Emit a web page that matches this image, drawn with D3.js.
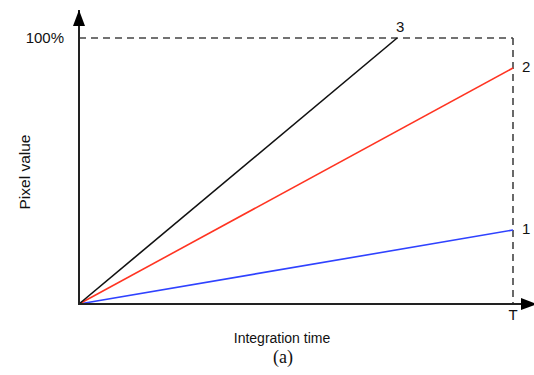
<!DOCTYPE html>
<html>
<head>
<meta charset="utf-8">
<script src="https://cdn.jsdelivr.net/npm/d3@7"></script>
<style>
  body { margin: 0; background: #fff; }
  text { font-family: "Liberation Sans", Arial, sans-serif; fill: #111; }
</style>
</head>
<body>
<svg id="chart" width="534" height="375"></svg>
<script>
// data: time in units of T, value in % of full scale
const seriesNames = ["1", "2", "3"];
const seriesColors = ["#2f42ff", "#ff3422", "#111111"];
const seriesTimes = [[0, 1], [0, 1], [0, 0.733]];
const seriesValues = [[0, 27.8], [0, 88.7], [0, 100]];
const xTickLabels = ["T"];
const yTickLabels = ["100%"];

const svg = d3.select("#chart");
const x = d3.scaleLinear().domain([0, 1]).range([79, 513]);
const y = d3.scaleLinear().domain([0, 100]).range([304, 38]);

// arrowhead marker
svg.append("defs").append("marker")
    .attr("id", "arrow")
    .attr("viewBox", "0 0 16 12")
    .attr("refX", 16).attr("refY", 6)
    .attr("markerWidth", 16).attr("markerHeight", 12)
    .attr("markerUnits", "userSpaceOnUse")
    .attr("orient", "auto")
    .append("path").attr("d", "M0,0 L16,6 L0,12 Z").attr("fill", "#000");

// dashed guide lines
const dash = "7,5";
svg.append("line")
    .attr("x1", x(0)).attr("x2", x(1))
    .attr("y1", y(100)).attr("y2", y(100))
    .attr("stroke", "#444").attr("stroke-width", 1.6).attr("stroke-dasharray", dash);
svg.append("line")
    .attr("x1", x(1)).attr("x2", x(1))
    .attr("y1", y(100)).attr("y2", y(0))
    .attr("stroke", "#444").attr("stroke-width", 1.6).attr("stroke-dasharray", dash);

// series lines
const line = d3.line().x(d => x(d[0])).y(d => y(d[1]));
seriesNames.forEach((name, i) => {
    const pts = seriesTimes[i].map((t, j) => [t, seriesValues[i][j]]);
    svg.append("path")
        .attr("d", line(pts))
        .attr("fill", "none")
        .attr("stroke", seriesColors[i])
        .attr("stroke-width", 1.6);
    const last = pts[pts.length - 1];
    const isTop = last[1] >= 100;
    svg.append("text")
        .attr("x", x(last[0]) + (isTop ? -1 : 9))
        .attr("y", y(last[1]) + (isTop ? -6 : 4))
        .attr("font-size", 15)
        .text(name);
});

// axes with arrows
svg.append("line")
    .attr("x1", x(0)).attr("y1", y(0))
    .attr("x2", x(0)).attr("y2", 10)
    .attr("stroke", "#222").attr("stroke-width", 2)
    .attr("marker-end", "url(#arrow)");
svg.append("line")
    .attr("x1", x(0) - 1).attr("y1", y(0))
    .attr("x2", 537).attr("y2", y(0))
    .attr("stroke", "#222").attr("stroke-width", 2)
    .attr("marker-end", "url(#arrow)");

// tick labels
svg.append("text")
    .attr("x", x(0) - 15).attr("y", y(100) + 5)
    .attr("text-anchor", "end").attr("font-size", 15)
    .text(yTickLabels[0]);
svg.append("text")
    .attr("x", x(1)).attr("y", y(0) + 16)
    .attr("text-anchor", "middle").attr("font-size", 15)
    .text(xTickLabels[0]);

// axis titles
svg.append("text")
    .attr("x", 282).attr("y", 343)
    .attr("text-anchor", "middle").attr("font-size", 14)
    .text("Integration time");
svg.append("text")
    .attr("transform", "translate(30,172) rotate(-90)")
    .attr("text-anchor", "middle").attr("font-size", 15.5)
    .text("Pixel value");
svg.append("text")
    .attr("x", 283).attr("y", 363)
    .attr("text-anchor", "middle").attr("font-size", 18)
    .style("font-family", "'Liberation Serif', 'Times New Roman', serif")
    .text("(a)");
</script>
</body>
</html>
